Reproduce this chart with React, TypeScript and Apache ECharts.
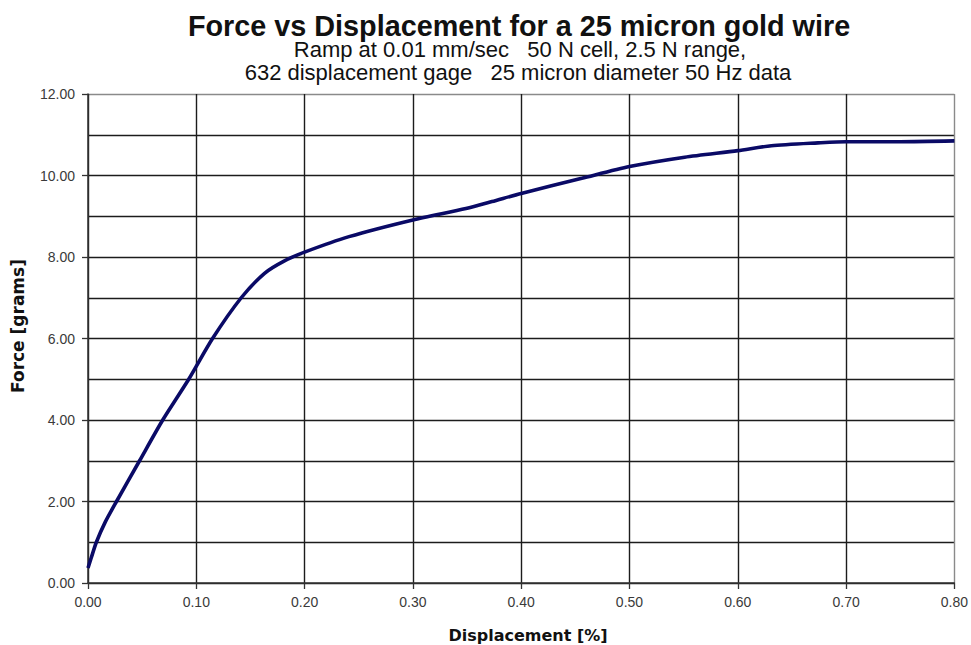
import React, { useEffect, useRef } from "react";
import * as echarts from "echarts";

const titleText = "Force vs Displacement for a 25 micron gold wire";
const subtitleLines = [
  "Ramp at 0.01 mm/sec   50 N cell, 2.5 N range,",
  "632 displacement gage   25 micron diameter 50 Hz data",
];
const xAxisName = "Displacement [%]";
const yAxisName = "Force [grams]";

const displacement = [
  0, 0.003, 0.0077, 0.016, 0.0263, 0.0476, 0.069, 0.093, 0.115, 0.1415, 0.163,
  0.181, 0.2, 0.241, 0.3, 0.349, 0.373, 0.4, 0.456, 0.5, 0.551, 0.6, 0.631,
  0.674, 0.7, 0.75, 0.8,
];
const force = [
  0.37, 0.62, 1.0, 1.5, 2.0, 3.0, 4.0, 5.0, 6.0, 7.0, 7.6, 7.9, 8.12, 8.5, 8.91,
  9.19, 9.36, 9.56, 9.93, 10.22, 10.45, 10.61, 10.73, 10.8, 10.83, 10.83, 10.85,
];

export default function App() {
  const ref = useRef<HTMLDivElement>(null);
  useEffect(() => {
    const chart = echarts.init(ref.current!, null, { renderer: "svg" });
    const dark = "#1c1c1c";
    const edge = "#8a8a8a";
    chart.setOption({
      animation: false,
      backgroundColor: "#ffffff",
      textStyle: { fontFamily: "Liberation Sans, Arial, sans-serif" },
      graphic: [
        {
          type: "text",
          x: 519,
          y: 25,
          scaleX: 0.96,
          style: {
            text: titleText,
            textAlign: "center",
            textVerticalAlign: "middle",
            font: "bold 30px 'Liberation Sans', Arial, sans-serif",
            fill: "#111",
          },
        },
        {
          type: "text",
          x: 520,
          y: 49,
          style: {
            text: subtitleLines[0],
            textAlign: "center",
            textVerticalAlign: "middle",
            font: "22px 'Liberation Sans', Arial, sans-serif",
            fill: "#111",
          },
        },
        {
          type: "text",
          x: 518,
          y: 72,
          style: {
            text: subtitleLines[1],
            textAlign: "center",
            textVerticalAlign: "middle",
            font: "22px 'Liberation Sans', Arial, sans-serif",
            fill: "#111",
          },
        },
        {
          type: "text",
          x: 528,
          y: 635,
          style: {
            text: xAxisName,
            textAlign: "center",
            textVerticalAlign: "middle",
            font: "bold 16px 'DejaVu Sans', sans-serif",
            fill: "#111",
          },
        },
        {
          type: "text",
          x: 18,
          y: 326,
          rotation: Math.PI / 2,
          style: {
            text: yAxisName,
            textAlign: "center",
            textVerticalAlign: "middle",
            font: "bold 17px 'DejaVu Sans', sans-serif",
            fill: "#111",
          },
        },
      ],
      grid: { left: 88, right: 14, top: 94, bottom: 62, containLabel: false },
      xAxis: {
        type: "value",
        min: 0,
        max: 0.8,
        interval: 0.1,
        axisLine: { show: true, lineStyle: { color: "#333", width: 1.5 } },
        axisTick: { show: true, length: 6, lineStyle: { color: "#333", width: 1.3 } },
        axisLabel: {
          color: "#3a3a3a",
          fontSize: 14,
          margin: 12,
          formatter: (v: number) => v.toFixed(2),
        },
        splitLine: {
          show: true,
          lineStyle: {
            color: [dark, dark, dark, dark, dark, dark, dark, dark, edge],
            width: 1.4,
          },
        },
      },
      yAxis: {
        type: "value",
        min: 0,
        max: 12,
        interval: 2,
        axisLine: { show: true, lineStyle: { color: "#333", width: 1.5 } },
        axisTick: { show: true, length: 6, lineStyle: { color: "#333", width: 1.3 } },
        minorTick: { show: false, splitNumber: 2 },
        minorSplitLine: { show: true, lineStyle: { color: dark, width: 1.4 } },
        axisLabel: {
          color: "#3a3a3a",
          fontSize: 14,
          margin: 13,
          formatter: (v: number) => v.toFixed(2),
        },
        splitLine: {
          show: true,
          lineStyle: {
            color: [dark, dark, dark, dark, dark, dark, edge],
            width: 1.4,
          },
        },
      },
      series: [
        {
          type: "line",
          data: displacement.map((x, i) => [x, force[i]]),
          showSymbol: false,
          smooth: 0.25,
          lineStyle: { color: "#0a0a66", width: 3.6 },
        },
      ],
    });
    return () => chart.dispose();
  }, []);
  return (
    <div
      ref={ref}
      style={{ position: "fixed", left: 0, top: 0, width: 971, height: 645 }}
    />
  );
}
